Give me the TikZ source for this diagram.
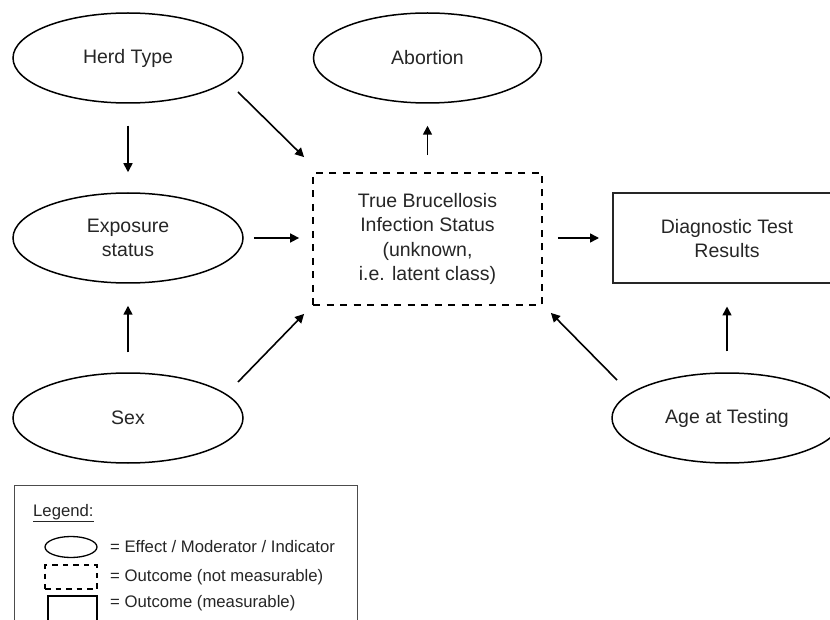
\documentclass[tikz,border=0pt]{standalone}
\usepackage{fontspec}
\setmainfont{Liberation Sans}
\usetikzlibrary{shapes.geometric,arrows.meta}
\tikzset{
  oval/.style={ellipse, draw=black, line width=1.5pt, minimum width=230pt, minimum height=90pt, inner sep=0pt, align=center, text=black!85, font=\fontsize{19.5}{24.5}\selectfont},
  latentbox/.style={rectangle, draw=black, line width=1.8pt, dash pattern=on 7pt off 6.5pt, minimum width=229pt, minimum height=132pt, inner sep=0pt, align=center, text=black!85, font=\fontsize{19.5}{24.5}\selectfont},
  measbox/.style={rectangle, draw=black!85, line width=2pt, minimum width=228pt, minimum height=90pt, inner sep=0pt, align=center, text=black!85, font=\fontsize{19.5}{24.5}\selectfont},
  conn/.style={line width=1.6pt, draw=black, -{Triangle[length=9pt,width=9pt]}},
  legtext/.style={anchor=west, inner sep=0pt, text=black!85, font=\fontsize{16.7}{20}\selectfont},
}
\begin{document}
\begin{tikzpicture}[x=1pt,y=-1pt]
\useasboundingbox (0,0) rectangle (830,620);
\clip (0,0) rectangle (830,620);
\fill[white] (0,0) rectangle (830,620);

% main nodes
\node[oval] (herd) at (128,58) {Herd Type};
\node[oval, minimum width=228pt] (abort) at (427.5,58) {Abortion};
\node[oval] (expo) at (128,238) {Exposure\\status};
\node[oval] (sex) at (128,418) {Sex};
\node[oval] (age) at (727,418) {Age at Testing};
\node[latentbox] (tbs) at (427.5,239) {True Brucellosis\\Infection Status\\(unknown,\\i.e. latent class)};
\node[measbox] (diag) at (727,238.5) {Diagnostic Test\\Results};

% connectors
\draw[conn, shorten <=22pt, shorten >=20pt] (herd) -- (expo);
\draw[conn] ([shift={(110,34)}]herd.center) -- ([shift={(-8,-15)}]tbs.north west);
\draw[conn, shorten <=17pt, shorten >=22pt] (tbs.north) -- (abort.south);
\draw[conn, shorten <=10pt, shorten >=13pt] (expo.east) -- (expo.east -| tbs.west);
\draw[conn, shorten <=20pt, shorten >=22pt] (sex) -- (expo);
\draw[conn] ([shift={(110,-36)}]sex.center) -- ([shift={(-8,8)}]tbs.south west);
\draw[conn] ([shift={(-110,-38)}]age.center) -- ([shift={(8,7)}]tbs.south east);
\draw[conn, shorten <=21pt, shorten >=22pt] (age.north) -- (diag.south);
\draw[conn, shorten <=15pt, shorten >=13pt] (tbs.east |- expo.east) -- (diag.west |- expo.east);

% legend
\node[rectangle, draw=black!70, line width=1pt, minimum width=343pt, minimum height=160pt, inner sep=0pt] (legbox) at (185.5,565) {};
\node[legtext] (legtitle) at (33,513) {\underline{Legend:}};
\node[ellipse, draw=black, line width=1.3pt, minimum width=52pt, minimum height=21pt, inner sep=0pt] (legoval) at (71,547) {};
\node[legtext] (legovaltext) at (110,547) {= Effect / Moderator / Indicator};
\node[rectangle, draw=black, line width=1.5pt, dash pattern=on 5.5pt off 5pt, minimum width=52pt, minimum height=24pt, inner sep=0pt] (legdash) at (71,577) {};
\node[legtext] (legdashtext) at (110,577) {= Outcome (not measurable)};
\node[rectangle, draw=black, line width=1.5pt, minimum width=49pt, minimum height=26pt, inner sep=0pt] (legrect) at (72.5,609) {};
\node[legtext] (legrecttext) at (110,603) {= Outcome (measurable)};
\end{tikzpicture}
\end{document}
